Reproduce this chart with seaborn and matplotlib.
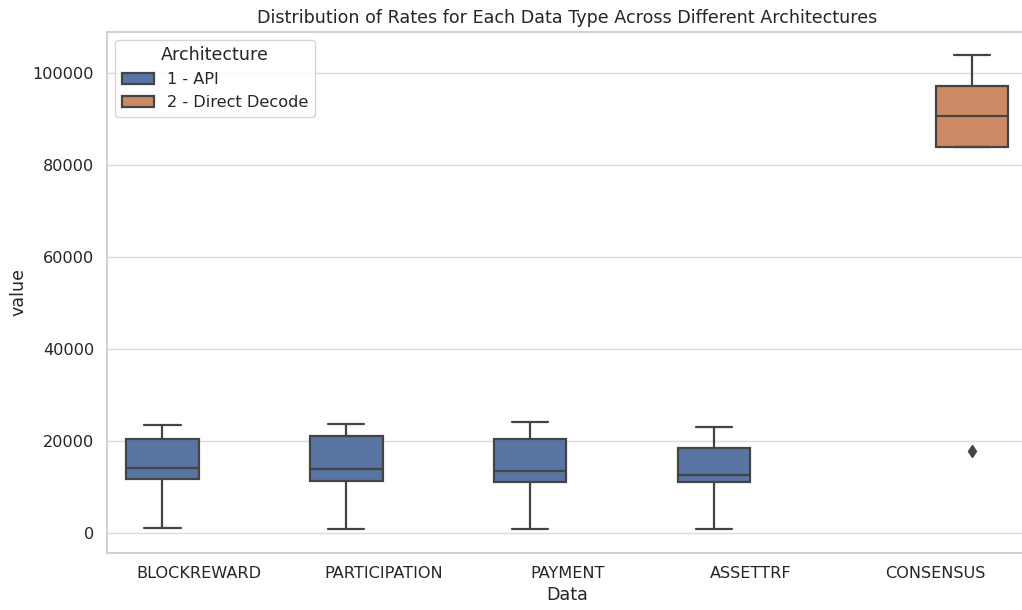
import seaborn as sns
import matplotlib.pyplot as plt
import pandas as pd

categories = ['BLOCKREWARD', 'PARTICIPATION', 'PAYMENT', 'ASSETTRF', 'CONSENSUS']
architectures = ['1 - API', '2 - Direct Decode']

# Raw rates per data type (min, q1, median, q3, max)
blockreward = [1100, 11800, 14200, 20350, 23600]
participation = [1000, 11400, 14000, 21000, 23800]
payment = [900, 11000, 13500, 20350, 24100]
assettrf = [950, 11000, 12600, 18400, 23000]
consensus = [17900, 84000, 84000, 87000, 90600, 94000, 97100, 100000, 103800]

# Build long-form table
rows = []
for cat, vals in zip(categories[:4], [blockreward, participation, payment, assettrf]):
    for v in vals:
        rows.append([cat, architectures[0], v])
for v in consensus:
    rows.append(['CONSENSUS', architectures[1], v])
df = pd.DataFrame(rows, columns=['Data', 'Architecture', 'value'])

sns.set_theme(style='whitegrid', rc={'grid.color': '0.86', 'axes.edgecolor': '0.8'})
plt.rcParams['font.family'] = ['DejaVu Sans']

fig, ax = plt.subplots(figsize=(10.22, 6.1), dpi=100)
line = '#444444'
sns.boxplot(data=df, x='Data', y='value', hue='Architecture', order=categories,
            hue_order=architectures, dodge=True, width=0.8, gap=0.02,
            saturation=0.75, linewidth=1.6, linecolor=line,
            flierprops={'marker': 'd', 'markerfacecolor': line,
                        'markeredgecolor': line, 'markersize': 6},
            ax=ax)

ax.set_title('Distribution of Rates for Each Data Type Across Different Architectures',
             fontsize=12.6)
ax.set_xlabel('Data', fontsize=12.6)
ax.set_ylabel('value', fontsize=12.6)
ax.tick_params(labelsize=11.6)
ax.legend(title='Architecture', loc='upper left', fontsize=11.6, title_fontsize=12.6)

plt.subplots_adjust(left=0.105, right=1.005, top=0.948, bottom=0.094)
plt.savefig('out.png', dpi=100)
